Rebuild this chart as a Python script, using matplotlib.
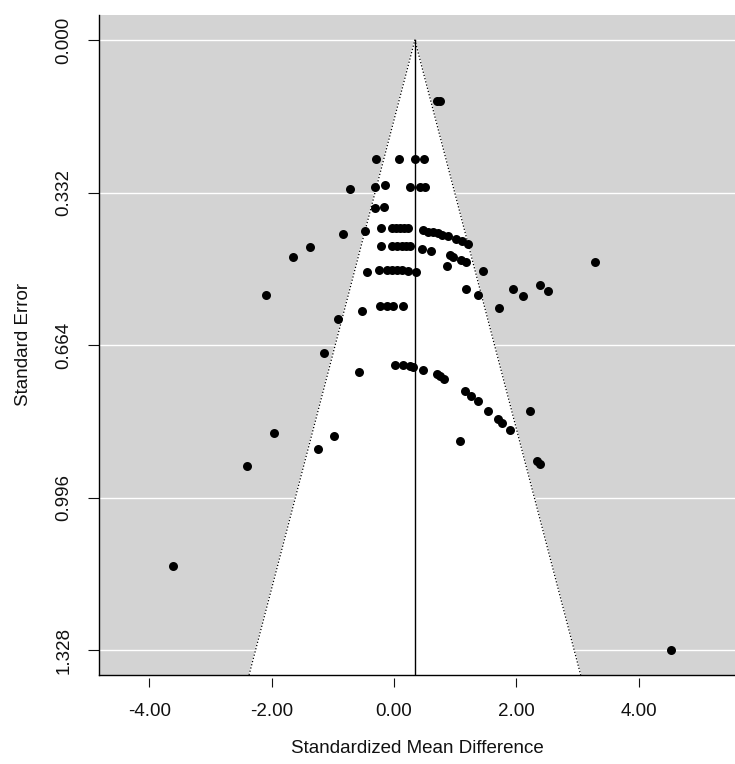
import numpy as np
import matplotlib.pyplot as plt

plt.rcParams['font.family'] = ['Liberation Sans', 'DejaVu Sans']

# values
smd = [0.70, 0.75,
       -0.29, 0.08, 0.35, 0.49,
       -0.72, -0.31, -0.14, 0.26, 0.42, 0.51,
       -0.31, -0.17,
       -0.84, -0.47, -0.21, -0.04, 0.03, 0.09, 0.16, 0.23,
       0.48, 0.56, 0.64, 0.71, 0.78, 0.88, 1.02, 1.11, 1.20,
       -1.37, -1.65,
       -0.22, -0.04, 0.05, 0.13, 0.20, 0.26,
       0.45, 0.60,
       0.92, 0.97, 1.09, 1.18, 0.86, 1.45,
       -0.45, -0.25, -0.12, -0.03, 0.05, 0.13, 0.22, 0.36,
       3.28,
       -2.09, 1.18, 1.37, 1.72, 1.94, 2.11, 2.38, 2.52,
       -0.53, -0.23, -0.11, -0.02, 0.14,
       -0.92, -1.15,
       0.02, 0.15, 0.26, 0.31, 0.48, -0.57,
       0.70, 0.75, 0.82,
       1.16, 1.25, 1.37, 1.54, 1.70, 1.76, 1.90, 2.22,
       1.08, -1.96, -0.98, -1.24, -2.41, 2.33, 2.39,
       -3.61, 4.52]
se = [0.133, 0.133,
      0.258, 0.258, 0.260, 0.260,
      0.325, 0.319, 0.316, 0.319, 0.321, 0.321,
      0.366, 0.364,
      0.423, 0.415, 0.409, 0.409, 0.409, 0.409, 0.409, 0.409,
      0.414, 0.417, 0.419, 0.420, 0.424, 0.427, 0.434, 0.438, 0.444,
      0.450, 0.472,
      0.448, 0.448, 0.448, 0.448, 0.448, 0.448,
      0.454, 0.459,
      0.468, 0.473, 0.479, 0.484, 0.492, 0.502,
      0.504, 0.501, 0.501, 0.501, 0.501, 0.501, 0.502, 0.504,
      0.483,
      0.554, 0.542, 0.555, 0.583, 0.541, 0.557, 0.534, 0.546,
      0.589, 0.578, 0.578, 0.578, 0.578,
      0.607, 0.682,
      0.707, 0.707, 0.710, 0.711, 0.718, 0.722,
      0.727, 0.731, 0.737,
      0.764, 0.775, 0.786, 0.807, 0.826, 0.833, 0.850, 0.807,
      0.872, 0.856, 0.862, 0.890, 0.927, 0.916, 0.923,
      1.144, 1.328]

estimate = 0.34
y_ticks = [0.000, 0.332, 0.664, 0.996, 1.328]
x_ticks = [-4, -2, 0, 2, 4]

fig = plt.figure(figsize=(7.35, 7.64), dpi=100)
ax = fig.add_axes([0.1347, 0.1165, 0.8653, 0.8644])

y_lo, y_hi = -0.0553, 1.3822
ax.set_xlim(-4.82, 5.57)
ax.set_ylim(y_hi, y_lo)
ax.set_facecolor('#D3D3D3')

# white gridlines
for t in y_ticks:
    ax.axhline(t, color='white', lw=1, zorder=1)

# funnel region
z = 1.96
fx = [estimate - z * y_hi, estimate, estimate + z * y_hi]
fy = [y_hi, 0, y_hi]
ax.fill(fx, fy, color='white', zorder=1.5)
ax.plot(fx, fy, color='black', ls=':', lw=0.9, zorder=2)
ax.plot([estimate, estimate], [0, y_hi], color='black', lw=1, zorder=2)

ax.scatter(smd, se, s=42, color='black', linewidths=0, zorder=3)

ax.spines['top'].set_visible(False)
ax.spines['right'].set_visible(False)
ax.spines['left'].set_linewidth(1)
ax.spines['bottom'].set_position(('outward', 2))
ax.spines['bottom'].set_visible(False)
ax.plot([0, 1], [0, 0], transform=ax.transAxes, color='black', lw=1,
        clip_on=False, zorder=4)

ax.set_xticks(x_ticks)
ax.set_xticklabels([f'{t:.2f}' for t in x_ticks])
ax.set_yticks(y_ticks)
ax.set_yticklabels([f'{t:.3f}' for t in y_ticks], rotation=90, va='center')
ax.tick_params(axis='x', direction='out', length=6.5, width=0.8, pad=12,
               labelsize=13.5, colors='#111111')
ax.tick_params(axis='y', direction='out', length=8, width=0.8, pad=11,
               labelsize=13.5, colors='#111111')

ax.set_xlabel('Standardized Mean Difference', fontsize=13.5, labelpad=14,
              color='#111111')
ax.set_ylabel('Standard Error', fontsize=13.5, labelpad=17, color='#111111')

fig.savefig('out.png', dpi=100)
